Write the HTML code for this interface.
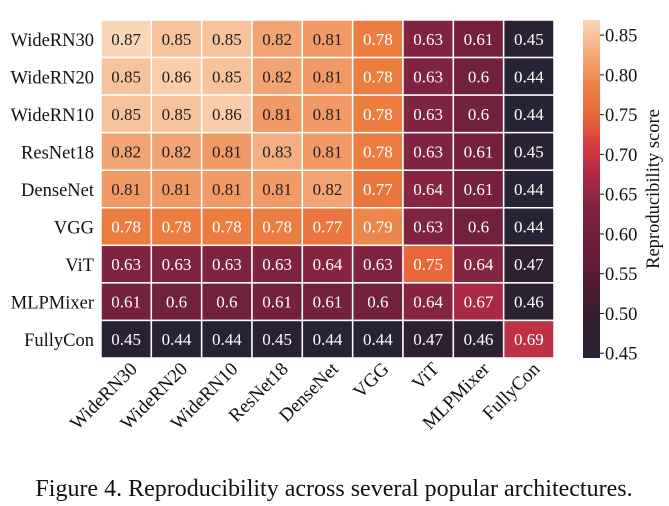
<!DOCTYPE html>
<html><head><meta charset="utf-8"><style>
body{margin:0;background:#fff;}
svg{display:block;font-family:"Liberation Serif",serif;}
</style></head><body>
<svg id="c" width="669" height="506">
<defs><linearGradient id="g" x1="0" y1="1" x2="0" y2="0"></linearGradient></defs>
</svg>
<script>
const rowLabels=["WideRN30","WideRN20","WideRN10","ResNet18","DenseNet","VGG","ViT","MLPMixer","FullyCon"];
const colLabels=["WideRN30","WideRN20","WideRN10","ResNet18","DenseNet","VGG","ViT","MLPMixer","FullyCon"];
const values=[
[0.87,0.85,0.85,0.82,0.81,0.78,0.63,0.61,0.45],
[0.85,0.86,0.85,0.82,0.81,0.78,0.63,0.6,0.44],
[0.85,0.85,0.86,0.81,0.81,0.78,0.63,0.6,0.44],
[0.82,0.82,0.81,0.83,0.81,0.78,0.63,0.61,0.45],
[0.81,0.81,0.81,0.81,0.82,0.77,0.64,0.61,0.44],
[0.78,0.78,0.78,0.78,0.77,0.79,0.63,0.6,0.44],
[0.63,0.63,0.63,0.63,0.64,0.63,0.75,0.64,0.47],
[0.61,0.6,0.6,0.61,0.61,0.6,0.64,0.67,0.46],
[0.45,0.44,0.44,0.45,0.44,0.44,0.47,0.46,0.69]];
const cbTicks=[0.45,0.5,0.55,0.6,0.65,0.7,0.75,0.8,0.85];
const vmin=0.444,vmax=0.869;
const gx=101,gy=20,gw=453,gh=338,cw=gw/9,rh=gh/9;
const stops=[[0,[40,34,54]],[0.12,[52,30,45]],[0.3,[100,28,58]],[0.45,[128,36,64]],[0.55,[178,42,70]],[0.63,[212,60,64]],[0.72,[232,104,58]],[0.8,[236,128,66]],[0.88,[242,162,112]],[1,[250,214,184]]];
function color(v){const t=Math.max(0,Math.min(1,(v-vmin)/(vmax-vmin)));for(let i=1;i<stops.length;i++){if(t<=stops[i][0]){const a=stops[i-1],b=stops[i],f=(t-a[0])/(b[0]-a[0]);const c=a[1].map((x,k)=>Math.round(x+(b[1][k]-x)*f));return `rgb(${c})`;}}return `rgb(${stops[stops.length-1][1]})`;}
const NS="http://www.w3.org/2000/svg",svg=document.getElementById('c');
function el(t,a,p){const e=document.createElementNS(NS,t);for(const k in a)e.setAttribute(k,a[k]);(p||svg).appendChild(e);return e;}
const grad=document.getElementById('g');
stops.forEach(s=>{el('stop',{offset:s[0],'stop-color':`rgb(${s[1]})`},grad);});
const xScale=i=>gx+i*cw, yScale=j=>gy+j*rh;
values.forEach((row,j)=>row.forEach((v,i)=>{
 const r=el('rect',{x:xScale(i),y:yScale(j),width:cw,height:rh,fill:color(v),stroke:'#fff','stroke-width':1.5});
 
 
 const t=el('text',{x:xScale(i)+cw/2,y:yScale(j)+rh/2+6,'text-anchor':'middle','font-size':17,fill:v>=0.8?'#222':'#fff'});
 t.textContent=String(v);
 
 
}));
rowLabels.forEach((l,j)=>{const t=el('text',{x:gx-7,y:yScale(j)+rh/2+7,'text-anchor':'end','font-size':18.5,fill:'#111'});t.textContent=l;
 
 });
colLabels.forEach((l,i)=>{const x=xScale(i)+cw/2+12,y=370;const t=el('text',{x:x,y:y,'text-anchor':'end','font-size':19,fill:'#111',transform:`rotate(-45 ${x} ${y})`});t.textContent=l;
 
 });
const cbx=583,cbw=17;
const cb=el('rect',{x:cbx,y:gy,width:cbw,height:gh,fill:'url(#g)'});


const cbY=v=>gy+gh-(v-vmin)/(vmax-vmin)*gh;
cbTicks.forEach(v=>{const y=cbY(v);el('line',{x1:cbx+cbw,x2:cbx+cbw+4,y1:y,y2:y,stroke:'#111','stroke-width':1});
 const t=el('text',{x:cbx+cbw+5,y:y+6.5,'font-size':18.5,fill:'#111'});t.textContent=v.toFixed(2);
 
 });
const yt=el('text',{x:659,y:189,'text-anchor':'middle','font-size':18.5,fill:'#111',transform:'rotate(-90 659 189)'});yt.textContent='Reproducibility score';


const cap=el('text',{x:334,y:496,'text-anchor':'middle','font-size':24,fill:'#111'});cap.textContent='Figure 4. Reproducibility across several popular architectures.';


</script>
</body></html>
